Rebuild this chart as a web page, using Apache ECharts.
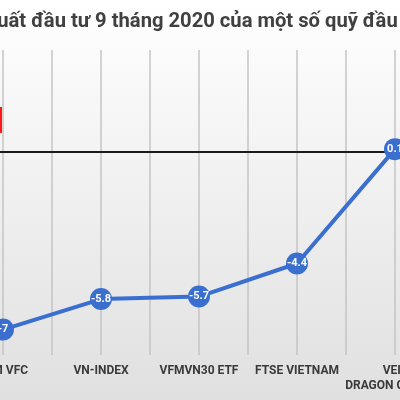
<!DOCTYPE html>
<html>
<head>
<meta charset="utf-8">
<script src="https://cdn.jsdelivr.net/npm/echarts@6/dist/echarts.min.js"></script>
<style>html,body{margin:0;padding:0;}#c{width:400px;height:400px;}</style>
</head>
<body>
<div id="c"></div>
<script>
const titleText = 'Hiệu suất đầu tư 9 tháng 2020 của một số quỹ đầu tư';
const categories = ['VFM VFC', 'VN-INDEX', 'VFMVN30 ETF', 'FTSE VIETNAM', 'VEIL\nDRAGON CAPITAL'];
const returns = [-7, -5.8, -5.7, -4.4, 0.1];
const yMin = -8, yMax = 4;

const fontFam = 'Roboto, "Noto Sans", sans-serif';
const titleSize = 20.2;
const titleX = -60;

const chart = echarts.init(document.getElementById('c'));
chart.setOption({
  backgroundColor: {
    type: 'linear', x: 0, y: 0, x2: 0, y2: 1,
    colorStops: [{offset: 0, color: '#ffffff'}, {offset: 1, color: '#e0e0e0'}]
  },
  animation: false,
  graphic: [{
    type: 'text', x: titleX, y: 22, silent: true,
    style: {
      text: titleText, fill: '#404040', fontFamily: fontFam, fontWeight: 'bold',
      fontSize: titleSize, align: 'left', verticalAlign: 'middle'
    }
  }, {
    type: 'rect', x: 0, y: 107, shape: {width: 2, height: 26},
    style: {fill: '#ff1a1a'}, silent: true
  }],
  grid: {left: -46, right: -44, top: 50, bottom: 45, outerBoundsMode: 'none', containLabel: false},
  xAxis: [{
    type: 'category',
    data: categories,
    boundaryGap: true,
    axisLine: {show: false, onZero: false},
    axisTick: {show: false},
    splitLine: {show: false},
    axisLabel: {
      interval: 0, margin: 8, color: '#3a3a3a', fontFamily: fontFam,
      fontWeight: 'bold', fontSize: 12, lineHeight: 15, hideOverlap: false
    }
  }, {
    type: 'value', min: 0, max: 10, interval: 1,
    position: 'bottom',
    axisLine: {show: false, onZero: false}, axisTick: {show: false}, axisLabel: {show: false},
    splitLine: {show: true, lineStyle: {color: '#c4c4c4', width: 1.5}}
  }],
  yAxis: {
    type: 'value', min: yMin, max: yMax,
    show: false, splitLine: {show: false}
  },
  series: [{
    type: 'line',
    data: returns,
    xAxisIndex: 0,
    symbol: 'circle',
    symbolSize: 22,
    lineStyle: {color: '#3a6fd0', width: 4},
    itemStyle: {color: '#3a6fd0'},
    label: {
      show: true, position: 'inside', color: '#ffffff', fontFamily: fontFam,
      fontWeight: 'bold', fontSize: 11
    },
    markLine: {
      silent: true, symbol: 'none', z: 1,
      label: {show: false},
      lineStyle: {color: '#1a1a1a', width: 2, type: 'solid'},
      data: [{yAxis: 0}]
    },
    z: 5
  }]
});
</script>
</body>
</html>
